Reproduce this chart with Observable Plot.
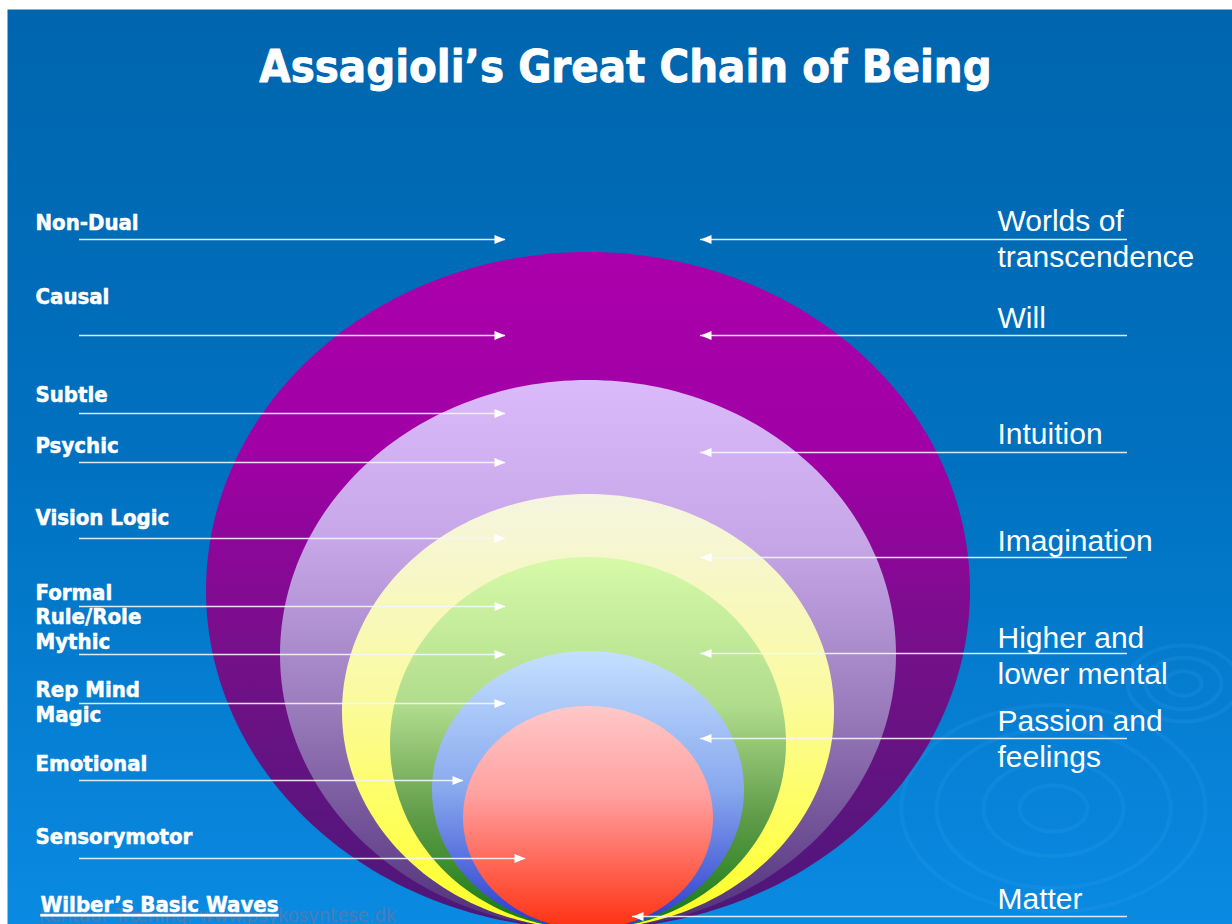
<!DOCTYPE html>
<html><head><meta charset="utf-8">
<script src="https://cdn.jsdelivr.net/npm/d3@7"></script>
<script src="https://cdn.jsdelivr.net/npm/@observablehq/plot@0.6"></script>
<style>html,body{margin:0;padding:0;background:#fff;overflow:hidden}</style>
</head><body><div id="chart"></div>
<script>
// ---- content ----
const title = "Assagioli’s Great Chain of Being";
const leftLabels = ["Non-Dual","Causal","Subtle","Psychic","Vision Logic","Formal","Rule/Role","Mythic","Rep Mind","Magic","Emotional","Sensorymotor"];
const leftLabelTop = [214,288,386,437,509,584,608,633,681,706,755,828];
const leftArrowLevel = [239,335,413,462,538,606,654,703,780,858];
const leftArrowReach = [505,505,505,505,505,505,505,505,463,525];
const leftArrowStart = 79;
const rightLabels = ["Worlds of\ntranscendence","Will","Intuition","Imagination","Higher and\nlower mental","Passion and\nfeelings","Matter"];
const rightLabelTop = [205,302,418,525,622,705,883];
const rightArrowLevel = [239,335,452,557,653,738,916];
const rightArrowReach = [700,700,700,700,700,700,632];
const rightArrowStart = 1127;
const footerLabel = "Wilber’s Basic Waves";
const watermark = "Kentaur Træning: www.psykosyntese.dk";
// nested rings (outer to inner), all touching at the base
const ringNames = ["Will","Intuition","Imagination","Mental","Passion","Matter"];
const ringHalfWidth = [382,308,246,198,156,125];
const ringTop = [252,380,494,557,651,706];
const ringBase = 929;
const ringAxis = 588;
// decorative ripples
const rippleCenterX = [1053,1053,1053,1053,1183,1183,1183];
const rippleCenterY = [808,808,808,808,683,683,683];
const rippleRadius  = [34,70,117,152,18,38,56];

// ---- styles ----
const ringStops = [
  [[0,"#ab00ab"],[0.3,"#a000a6"],[0.6,"#741088"],[1,"#4a1878"]],
  [[0,"#dabafa"],[0.3,"#c6a6e6"],[0.6,"#9a7cbc"],[1,"#4e2e78"]],
  [[0,"#f5f5e2"],[0.45,"#fafaa2"],[0.8,"#ffff50"],[1,"#ffff20"]],
  [[0,"#d6faa8"],[0.4,"#b0dc8c"],[0.7,"#609c48"],[1,"#127812"]],
  [[0,"#c4e0ff"],[0.5,"#88a8ee"],[1,"#2838cc"]],
  [[0,"#ffc8c8"],[0.4,"#ffa0a0"],[1,"#ff3010"]]
];
const bgStops = [[0,"#0065ae"],[0.5,"#0071c0"],[1,"#0a8ae2"]];
const boldFont = "'DejaVu Sans Condensed', 'DejaVu Sans', sans-serif";
const plainFont = "'Liberation Sans', Arial, sans-serif";

// ---- geometry tables built from the values ----
const ringPts = [];
ringNames.forEach((name, i) => {
  const rx = ringHalfWidth[i], ry = (ringBase - ringTop[i]) / 2, cy = ringTop[i] + ry;
  for (let k = 0; k <= 120; k++) {
    const t = Math.PI * k / 120;
    ringPts.push({ring: i, y: cy - ry * Math.cos(t), x1: ringAxis - rx * Math.sin(t), x2: ringAxis + rx * Math.sin(t)});
  }
});
const ripplePts = [];
rippleRadius.forEach((r, i) => {
  for (let k = 0; k <= 90; k++) {
    const t = 2 * Math.PI * k / 90;
    ripplePts.push({id: i, x: rippleCenterX[i] + r * Math.cos(t), y: rippleCenterY[i] + r * 0.68 * Math.sin(t)});
  }
});
const leftArrows = leftArrowLevel.map((y, i) => ({y, x1: leftArrowStart, x2: leftArrowReach[i]}));
const rightArrows = rightArrowLevel.map((y, i) => ({y, x1: rightArrowStart, x2: rightArrowReach[i]}));
const leftText = leftLabels.map((t, i) => ({t, y: leftLabelTop[i]}));
const rightText = rightLabels.map((t, i) => ({t, y: rightLabelTop[i]}));

const headRight = {draw(c){ c.moveTo(0,0); c.lineTo(-11,-4.6); c.lineTo(-11,4.6); c.closePath(); }};
const headLeft  = {draw(c){ c.moveTo(0,0); c.lineTo(11,-4.6); c.lineTo(11,4.6); c.closePath(); }};

const ringMarks = ringNames.map((n, i) => Plot.areaX(ringPts.filter(d => d.ring === i), {
  y: "y", x1: "x1", x2: "x2", fill: `url(#ring${i})`, curve: "linear"
}));

const svg = Plot.plot({
  width: 1232, height: 924, margin: 0,
  x: {domain: [0, 1232], range: [0, 1232], axis: null},
  y: {domain: [0, 924], range: [0, 924], axis: null},
  style: {background: "#ffffff"},
  marks: [
    Plot.frame({fill: "url(#bg)", stroke: "none", insetLeft: 7, insetTop: 9}),
    Plot.line(ripplePts, {x: "x", y: "y", z: "id", stroke: "#2fa0f2", strokeWidth: 4, strokeOpacity: 0.2, curve: "linear"}),
    ...ringMarks,
    Plot.ruleY(leftArrows, {y: "y", x1: "x1", x2: "x2", stroke: "#f4f6fa", strokeWidth: 1.6, strokeOpacity: 0.9}),
    Plot.ruleY(rightArrows, {y: "y", x1: "x1", x2: "x2", stroke: "#f4f6fa", strokeWidth: 1.6, strokeOpacity: 0.9}),
    Plot.dot(leftArrows, {x: "x2", y: "y", symbol: headRight, r: 5, fill: "#ffffff", stroke: "none"}),
    Plot.dot(rightArrows, {x: "x2", y: "y", symbol: headLeft, r: 5, fill: "#ffffff", stroke: "none"}),
    Plot.text([title], {frameAnchor: "top", dy: 50, dx: 9, text: d => d, lineAnchor: "top", fontSize: 45, fontWeight: "bold", fontFamily: boldFont, fill: "#ffffff", stroke: "#ffffff", strokeWidth: 0.8}),
    Plot.text(leftText, {x: 35, y: "y", text: "t", textAnchor: "start", lineAnchor: "top", fontSize: 22, fontWeight: "bold", fontFamily: boldFont, fill: "#ffffff", stroke: "#ffffff", strokeWidth: 0.5}),
    Plot.text(rightText, {x: 997, y: "y", text: "t", textAnchor: "start", lineAnchor: "top", lineHeight: 1.2, fontSize: 30, fontFamily: plainFont, fill: "#ffffff"}),
    Plot.text([watermark], {x: 38, y: 907, text: d => d, textAnchor: "start", lineAnchor: "top", fontSize: 20, fontFamily: boldFont, fill: "#4a7db5"}),
    Plot.text([footerLabel], {x: 40, y: 896, text: d => d, textAnchor: "start", lineAnchor: "top", fontSize: 22, fontWeight: "bold", fontFamily: boldFont, fill: "#ffffff", stroke: "#ffffff", strokeWidth: 0.5})
  ]
});

// gradients
const ns = "http://www.w3.org/2000/svg";
const defs = document.createElementNS(ns, "defs");
function grad(id, stops) {
  const g = document.createElementNS(ns, "linearGradient");
  g.setAttribute("id", id); g.setAttribute("x1", "0"); g.setAttribute("y1", "0"); g.setAttribute("x2", "0"); g.setAttribute("y2", "1");
  stops.forEach(([o, c]) => { const s = document.createElementNS(ns, "stop"); s.setAttribute("offset", o); s.setAttribute("stop-color", c); g.appendChild(s); });
  defs.appendChild(g);
}
grad("bg", bgStops);
ringStops.forEach((s, i) => grad(`ring${i}`, s));
svg.insertBefore(defs, svg.firstChild);
d3.select(svg).selectAll("text").filter(function(){ return this.textContent === footerLabel; }).attr("text-decoration", "underline");

document.getElementById("chart").appendChild(svg);
</script>
</body></html>
